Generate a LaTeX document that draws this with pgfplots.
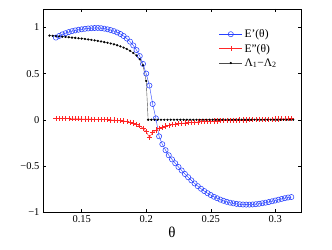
\documentclass[border=0pt]{standalone}
\usepackage{fontspec}
\setmainfont{Liberation Serif}
\usepackage{pgfplots}
\pgfplotsset{compat=1.18}
\definecolor{eblue}{rgb}{0.15,0.25,1}
\definecolor{ered}{rgb}{1,0.15,0.15}
\begin{document}
\begin{tikzpicture}
\begin{axis}[
  scale only axis, width=258pt, height=203pt,
  xmin=0.12, xmax=0.32, ymin=-1, ymax=1.2,
  xtick={0.15,0.2,0.25,0.3}, xticklabels={0.15,0.2,0.25,0.3},
  ytick={-1,-0.5,0,0.5,1}, yticklabels={−1,−0.5,0,0.5,1},
  tick align=inside, tick style={black, thin},
  major tick length=3pt,
  tick label style={font=\fontsize{10.5}{12}\selectfont},
  xlabel={\fontsize{15}{16}\selectfont θ},
  xlabel style={yshift=3pt},
  legend style={at={(0.67,0.92)}, anchor=north west, draw=none, fill=none,
    font=\fontsize{11.5}{13}\selectfont, row sep=1pt},
  legend cell align=left,
  axis line style={black, thin},
]
\addlegendimage{legend image code/.code={\draw[color=eblue, line width=0.5pt] (0pt,0pt) -- (23pt,0pt); \path[color=eblue, line width=0.55pt, mark=o, mark size=2.6pt] plot coordinates {(11.5pt,0pt)};}}
\addlegendentry{E'(θ)}
\addlegendimage{legend image code/.code={\draw[color=ered, line width=0.5pt] (0pt,0pt) -- (23pt,0pt); \path[color=ered, line width=0.55pt, mark=+, mark size=2.6pt] plot coordinates {(11.5pt,0pt)};}}
\addlegendentry{E''(θ)}
\addlegendimage{legend image code/.code={\draw[color=black!70, line width=0.5pt] (0pt,0pt) -- (23pt,0pt); \path[color=black, mark=*, mark size=0.9pt] plot coordinates {(11.5pt,0pt)};}}
\addlegendentry{Λ\textsubscript{1}−Λ\textsubscript{2}}
\addplot[eblue, thin, mark=o, mark size=2.6pt, mark options={solid, line width=0.55pt}, forget plot] table {
0.1300 0.890
0.1325 0.908
0.1350 0.925
0.1375 0.938
0.1400 0.950
0.1425 0.960
0.1450 0.968
0.1475 0.975
0.1500 0.980
0.1525 0.985
0.1550 0.989
0.1575 0.992
0.1600 0.994
0.1625 0.995
0.1650 0.992
0.1675 0.987
0.1700 0.980
0.1725 0.971
0.1750 0.960
0.1775 0.946
0.1800 0.929
0.1825 0.907
0.1850 0.880
0.1875 0.846
0.1900 0.805
0.1925 0.755
0.1950 0.690
0.1975 0.605
0.2000 0.500
0.2025 0.370
0.2050 0.170
0.2075 0.015
0.2100 -0.180
0.2125 -0.265
0.2150 -0.330
0.2175 -0.385
0.2200 -0.430
0.2225 -0.472
0.2250 -0.512
0.2275 -0.550
0.2300 -0.588
0.2325 -0.623
0.2350 -0.657
0.2375 -0.690
0.2400 -0.720
0.2425 -0.748
0.2450 -0.773
0.2475 -0.796
0.2500 -0.816
0.2525 -0.835
0.2550 -0.851
0.2575 -0.866
0.2600 -0.879
0.2625 -0.890
0.2650 -0.899
0.2675 -0.906
0.2700 -0.912
0.2725 -0.916
0.2750 -0.919
0.2775 -0.920
0.2800 -0.920
0.2825 -0.918
0.2850 -0.915
0.2875 -0.911
0.2900 -0.905
0.2925 -0.899
0.2950 -0.892
0.2975 -0.884
0.3000 -0.876
0.3025 -0.867
0.3050 -0.858
0.3075 -0.850
0.3100 -0.843
0.3125 -0.838
};
\addplot[ered, thin, mark=+, mark size=2.6pt, mark options={line width=0.55pt}, forget plot] table {
0.1300 0.012
0.1325 0.012
0.1350 0.012
0.1375 0.011
0.1400 0.011
0.1425 0.010
0.1450 0.010
0.1475 0.009
0.1500 0.008
0.1525 0.008
0.1550 0.007
0.1575 0.006
0.1600 0.005
0.1625 0.004
0.1650 0.003
0.1675 0.001
0.1700 0.000
0.1725 -0.002
0.1750 -0.004
0.1775 -0.007
0.1800 -0.010
0.1825 -0.014
0.1850 -0.019
0.1875 -0.026
0.1900 -0.035
0.1925 -0.048
0.1950 -0.066
0.1975 -0.092
0.2000 -0.130
0.2025 -0.190
0.2050 -0.140
0.2075 -0.112
0.2100 -0.093
0.2125 -0.080
0.2150 -0.069
0.2175 -0.061
0.2200 -0.054
0.2225 -0.048
0.2250 -0.043
0.2275 -0.039
0.2300 -0.035
0.2325 -0.032
0.2350 -0.029
0.2375 -0.026
0.2400 -0.024
0.2425 -0.022
0.2450 -0.020
0.2475 -0.018
0.2500 -0.016
0.2525 -0.014
0.2550 -0.013
0.2575 -0.011
0.2600 -0.010
0.2625 -0.008
0.2650 -0.007
0.2675 -0.006
0.2700 -0.005
0.2725 -0.004
0.2750 -0.003
0.2775 -0.002
0.2800 -0.001
0.2825 0.000
0.2850 0.001
0.2875 0.002
0.2900 0.003
0.2925 0.004
0.2950 0.005
0.2975 0.006
0.3000 0.007
0.3025 0.008
0.3050 0.009
0.3075 0.010
0.3100 0.010
0.3125 0.011
};
\addplot[black!70, thin, mark=*, mark size=0.9pt, mark options={black}, forget plot] table {
0.1250 0.912
0.1275 0.909
0.1300 0.906
0.1325 0.903
0.1350 0.900
0.1375 0.897
0.1400 0.894
0.1425 0.890
0.1450 0.887
0.1475 0.883
0.1500 0.879
0.1525 0.875
0.1550 0.870
0.1575 0.865
0.1600 0.860
0.1625 0.854
0.1650 0.848
0.1675 0.841
0.1700 0.834
0.1725 0.826
0.1750 0.817
0.1775 0.807
0.1800 0.795
0.1825 0.782
0.1850 0.766
0.1875 0.747
0.1900 0.724
0.1925 0.695
0.1950 0.655
0.1975 0.590
0.2000 0.420
0.2015 0
0.2040 0
0.2065 0
0.2090 0
0.2115 0
0.2140 0
0.2165 0
0.2190 0
0.2215 0
0.2240 0
0.2265 0
0.2290 0
0.2315 0
0.2340 0
0.2365 0
0.2390 0
0.2415 0
0.2440 0
0.2465 0
0.2490 0
0.2515 0
0.2540 0
0.2565 0
0.2590 0
0.2615 0
0.2640 0
0.2665 0
0.2690 0
0.2715 0
0.2740 0
0.2765 0
0.2790 0
0.2815 0
0.2840 0
0.2865 0
0.2890 0
0.2915 0
0.2940 0
0.2965 0
0.2990 0
0.3015 0
0.3040 0
0.3065 0
0.3090 0
0.3115 0
0.3140 0
};
\end{axis}
\path (current axis.south west) ++(-43pt,-38pt) (current axis.north east) ++(31pt,9pt);
\end{tikzpicture}
\end{document}
